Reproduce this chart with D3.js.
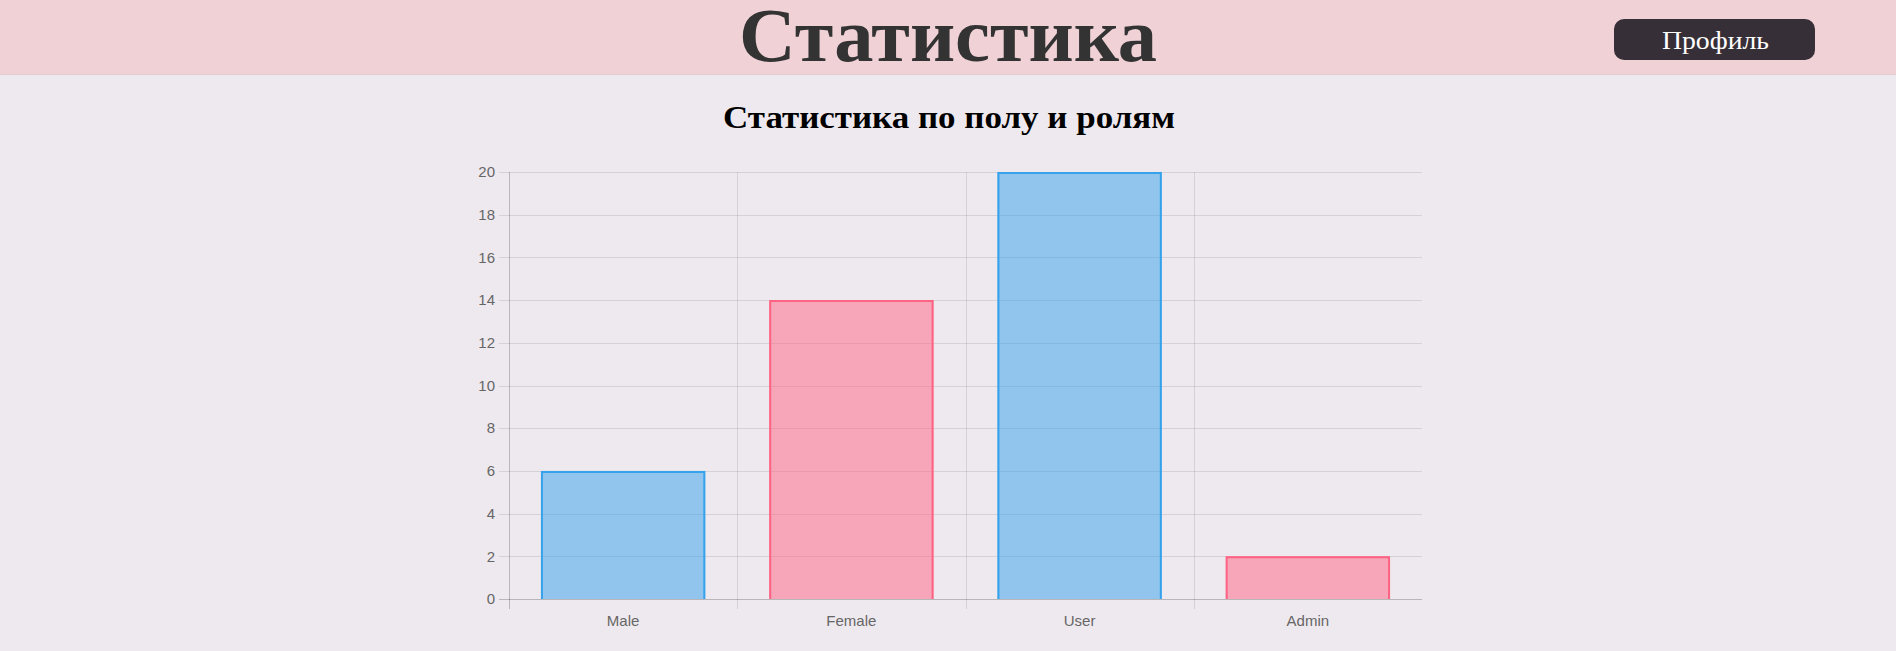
<!DOCTYPE html>
<html><head><meta charset="utf-8">
<script src="https://cdn.jsdelivr.net/npm/d3@7"></script>
<style>
html,body{margin:0;padding:0;background:#eee9ef;}
svg{display:block;}
</style></head>
<body>
<svg id="c" width="1896" height="651"></svg>
<script>
const categories = ["Male", "Female", "User", "Admin"];
const values = [6, 14, 20, 2];
const yTicks = [0, 2, 4, 6, 8, 10, 12, 14, 16, 18, 20];
const pageTitle = "Статистика";
const chartTitle = "Статистика по полу и ролям";
const buttonLabel = "Профиль";
const fills = ["rgba(54,162,235,0.5)", "rgba(255,99,132,0.5)", "rgba(54,162,235,0.5)", "rgba(255,99,132,0.5)"];
const strokes = ["rgb(54,162,235)", "rgb(255,99,132)", "rgb(54,162,235)", "rgb(255,99,132)"];

const svg = d3.select("#c");
// header
svg.append("rect").attr("x",0).attr("y",0).attr("width",1896).attr("height",75).attr("fill","#efd1d6");
svg.append("line").attr("x1",0).attr("x2",1896).attr("y1",74.5).attr("y2",74.5).attr("stroke","#e6cdd2");
svg.append("text").attr("x",948).attr("y",61).attr("text-anchor","middle")
  .attr("font-family","'Liberation Serif', serif").attr("font-weight","bold").attr("font-size",77)
  .attr("textLength",418).attr("lengthAdjust","spacingAndGlyphs")
  .attr("fill","#333").text(pageTitle);
svg.append("rect").attr("x",1614).attr("y",19).attr("width",201).attr("height",41).attr("rx",10)
  .attr("fill","#372f37");
svg.append("text").attr("x",1715.5).attr("y",49).attr("text-anchor","middle")
  .attr("font-family","'Liberation Serif', serif").attr("font-size",26)
  .attr("textLength",107).attr("lengthAdjust","spacingAndGlyphs")
  .attr("fill","#fff").text(buttonLabel);
svg.append("text").attr("x",949).attr("y",128).attr("text-anchor","middle")
  .attr("font-family","'Liberation Serif', serif").attr("font-weight","bold").attr("font-size",32)
  .attr("textLength",452).attr("lengthAdjust","spacingAndGlyphs")
  .attr("fill","#000").text(chartTitle);

// chart
const L = 509, R = 1422, T = 172, B = 599;
const x = d3.scaleBand().domain(categories).range([L, R]).padding(0);
const y = d3.scaleLinear().domain([0, 20]).range([B, T]);
const g = svg.append("g");

// horizontal grid
g.selectAll(".hg").data(yTicks).join("line")
  .attr("x1", L - 10).attr("x2", R)
  .attr("y1", d => Math.round(y(d)) + 0.5).attr("y2", d => Math.round(y(d)) + 0.5)
  .attr("stroke", d => d === 0 ? "rgba(0,0,0,0.22)" : "rgba(0,0,0,0.1)");
// vertical grid at category boundaries (except right edge)
const bounds = categories.map(c => x(c));
g.selectAll(".vg").data(bounds).join("line")
  .attr("x1", d => Math.round(d) + 0.5).attr("x2", d => Math.round(d) + 0.5)
  .attr("y1", T).attr("y2", B + 10)
  .attr("stroke", (d,i) => i === 0 ? "rgba(0,0,0,0.22)" : "rgba(0,0,0,0.1)");

// y labels
g.selectAll(".yl").data(yTicks).join("text")
  .attr("x", L - 14).attr("y", d => y(d)).attr("dy", "0.35em")
  .attr("text-anchor", "end").attr("font-family", "'Liberation Sans', Arial, sans-serif")
  .attr("font-size", 15).attr("fill", "#666").text(d => d);
// x labels
g.selectAll(".xl").data(categories).join("text")
  .attr("x", d => x(d) + x.bandwidth() / 2).attr("y", 626)
  .attr("text-anchor", "middle").attr("font-family", "'Liberation Sans', Arial, sans-serif")
  .attr("font-size", 15).attr("fill", "#666").text(d => d);

// bars
const bw = x.bandwidth() * 0.72;
const bars = g.selectAll(".bar").data(categories).join("g");
bars.append("rect")
  .attr("x", d => x(d) + (x.bandwidth() - bw) / 2)
  .attr("y", (d,i) => y(values[i]))
  .attr("width", bw)
  .attr("height", (d,i) => y(0) - y(values[i]))
  .attr("fill", (d,i) => fills[i]);
bars.append("path")
  .attr("d", (d,i) => {
    const x0 = x(d) + (x.bandwidth() - bw) / 2 + 1, x1 = x0 + bw - 2;
    const yt = y(values[i]) + 1, yb = y(0);
    return `M${x0},${yb}V${yt}H${x1}V${yb}`;
  })
  .attr("fill", "none").attr("stroke", (d,i) => strokes[i]).attr("stroke-width", 2);
</script>
</body></html>
